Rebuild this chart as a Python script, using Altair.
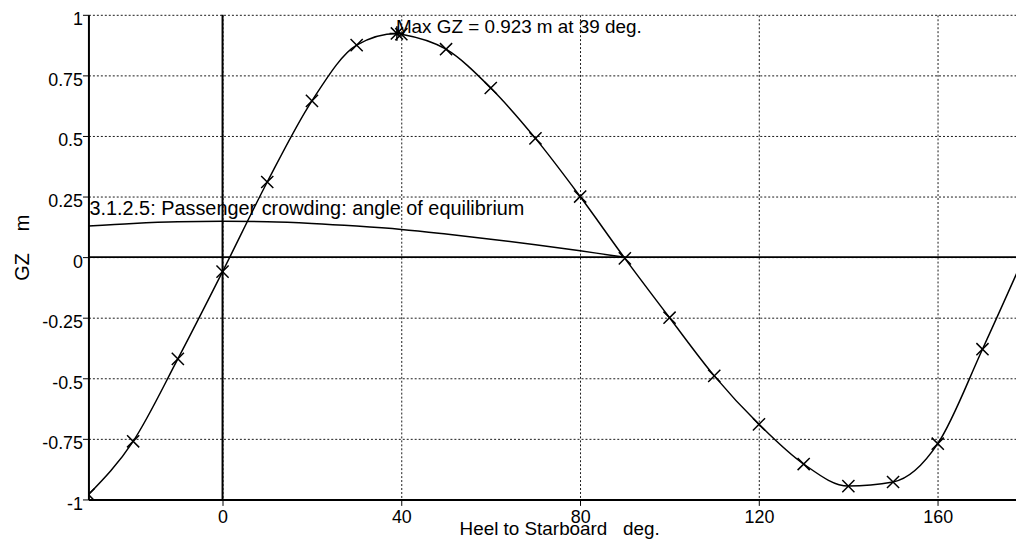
import altair as alt
import pandas as pd

# GZ curve (heel deg, GZ m)
gz_heel = [-30, -20, -10, 0, 10, 20, 30, 39, 40, 50, 60, 70, 80, 90, 100, 110, 120, 130, 140, 150, 160, 170, 180]
gz_vals = [-0.98, -0.76, -0.42, -0.06, 0.31, 0.645, 0.875, 0.923, 0.92, 0.858, 0.698, 0.49, 0.25, -0.005,
           -0.25, -0.49, -0.69, -0.854, -0.945, -0.928, -0.77, -0.38, 0.03]

# markers every 10 degrees
mk_heel = [-30, -20, -10, 0, 10, 20, 30, 40, 50, 60, 70, 80, 90, 100, 110, 120, 130, 140, 150, 160, 170]
mk_vals = [-0.98, -0.76, -0.42, -0.06, 0.31, 0.645, 0.875, 0.92, 0.858, 0.698, 0.49, 0.25, -0.005,
           -0.25, -0.49, -0.69, -0.854, -0.945, -0.928, -0.77, -0.38]

max_heel = [39]
max_vals = [0.923]

# Heeling arm: passenger crowding
ha_heel = [-30, -20, -10, 0, 10, 20, 30, 40, 50, 60, 70, 80, 88, 90]
ha_vals = [0.128, 0.139, 0.146, 0.148, 0.146, 0.139, 0.128, 0.114, 0.095, 0.074, 0.051, 0.026, 0.005, 0.0]

x_ticks = [0, 40, 80, 120, 160]
y_ticks = [-1, -0.75, -0.5, -0.25, 0, 0.25, 0.5, 0.75, 1]

max_label = "Max GZ = 0.923 m at 39 deg."
ha_label = "3.1.2.5: Passenger crowding: angle of equilibrium"

FONT = "Liberation Sans"

gz_df = pd.DataFrame({"heel": gz_heel, "gz": gz_vals})
mk_df = pd.DataFrame({"heel": mk_heel, "gz": mk_vals})
max_df = pd.DataFrame({"heel": max_heel, "gz": max_vals, "label": [max_label]})
ha_df = pd.DataFrame({"heel": ha_heel, "gz": ha_vals})
ha_lab_df = pd.DataFrame({"heel": [ha_heel[0]], "gz": [ha_vals[0]], "label": [ha_label]})
zero_df = pd.DataFrame({"heel": [0], "gz": [0]})

x_enc = alt.X(
    "heel:Q",
    scale=alt.Scale(domain=[-30, 177.5], nice=False, zero=False),
    axis=alt.Axis(
        values=x_ticks, grid=True, gridDash=[2, 2], gridColor="#000000", gridOpacity=0.9,
        domainColor="#000000", domainWidth=2, tickColor="#000000", tickSize=6, tickWidth=1,
        labelFont=FONT, labelFontSize=18, labelColor="#000000", labelPadding=3,
        title="Heel to Starboard\u00a0\u00a0 deg.", titleFont=FONT, titleFontSize=19,
        titleFontWeight="normal", titleColor="#000000",
        titleX=474, titleY=29, titleAlign="center", titleBaseline="middle",
    ),
)
y_enc = alt.Y(
    "gz:Q",
    scale=alt.Scale(domain=[-1, 1], nice=False, zero=False),
    axis=alt.Axis(
        values=y_ticks, grid=True, gridDash=[2, 2], gridColor="#000000", gridOpacity=0.9,
        domainColor="#000000", domainWidth=2, tickColor="#000000", tickSize=6, tickWidth=1,
        labelFont=FONT, labelFontSize=18, labelColor="#000000", labelPadding=0, labelOffset=5,
        labelExpr="datum.value + ''",
        title="GZ\u00a0\u00a0\u00a0\u00a0m", titleFont=FONT, titleFontSize=20, titleFontWeight="normal",
        titleColor="#000000", titleAngle=270, titleX=-66, titleY=234,
        titleAlign="center", titleBaseline="middle",
    ),
)

x_path = "M-1,-1L1,1M-1,1L1,-1"
star_path = "M-1,-1L1,1M-1,1L1,-1M0,-1.2L0,1.2M-1.2,0L1.2,0"

zero_h = alt.Chart(zero_df).mark_rule(color="#000000", strokeWidth=2).encode(y=y_enc)
zero_v = alt.Chart(zero_df).mark_rule(color="#000000", strokeWidth=2).encode(x=x_enc)

gz_line = alt.Chart(gz_df).mark_line(color="#000000", strokeWidth=1.5, interpolate="monotone", clip=True).encode(
    x=x_enc, y=y_enc)
ha_line = alt.Chart(ha_df).mark_line(color="#000000", strokeWidth=1.5, interpolate="monotone", clip=True).encode(
    x=x_enc, y=y_enc)
markers = alt.Chart(mk_df).mark_point(shape=x_path, size=150, filled=False, stroke="#000000",
                                      strokeWidth=1.5, opacity=1, clip=True).encode(x=x_enc, y=y_enc)
max_mark = alt.Chart(max_df).mark_point(shape=star_path, size=150, filled=False, stroke="#000000",
                                        strokeWidth=1.5, opacity=1).encode(x=x_enc, y=y_enc)
max_text = alt.Chart(max_df).mark_text(align="left", baseline="middle", dx=-1, dy=-6, font=FONT,
                                       fontSize=19, color="#000000").encode(x=x_enc, y=y_enc, text="label:N")
ha_text = alt.Chart(ha_lab_df).mark_text(align="left", baseline="middle", dx=1, dy=-17, font=FONT,
                                         fontSize=20, color="#000000").encode(x=x_enc, y=y_enc, text="label:N")

chart = alt.layer(zero_h, zero_v, ha_line, gz_line, markers, max_mark, max_text, ha_text).properties(
    width=934, height=488,
    autosize=alt.AutoSizeParams(type="none"),
    padding={"left": 81, "top": 5, "right": 0, "bottom": 41},
    background="#ffffff",
).configure_view(stroke=None)

chart.save("out.html", embed_options={"renderer": "svg", "actions": False})
